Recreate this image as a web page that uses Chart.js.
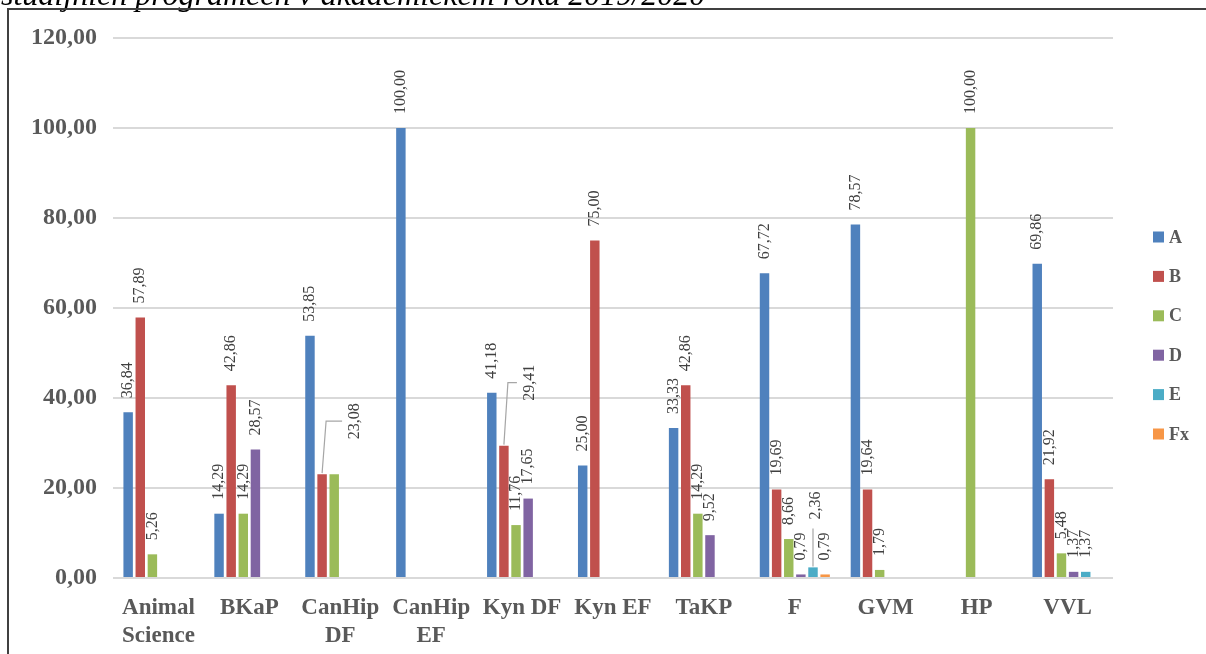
<!DOCTYPE html>
<html>
<head>
<meta charset="utf-8">
<script src="https://cdn.jsdelivr.net/npm/chart.js@4.4.0/dist/chart.umd.min.js"></script>
<style>
  body { margin: 0; background: #fff; }
  canvas { display: block; }
</style>
</head>
<body>
<canvas id="myChart" width="1206" height="654"></canvas>
<script>
// categories (study programmes) and grade shares in %
var programy = [['Animal', 'Science'], 'BKaP', ['CanHip', 'DF'], ['CanHip', 'EF'], 'Kyn DF', 'Kyn EF', 'TaKP', 'F', 'GVM', 'HP', 'VVL'];
var znamky = ['A', 'B', 'C', 'D', 'E', 'Fx'];

var hodnotyA  = [36.84, 14.29, 53.85, 100.00, 41.18, 25.00, 33.33, 67.72, 78.57, null, 69.86];
var hodnotyB  = [57.89, 42.86, 23.08, null, 29.41, 75.00, 42.86, 19.69, 19.64, null, 21.92];
var hodnotyC  = [5.26, 14.29, 23.08, null, 11.76, null, 14.29, 8.66, 1.79, 100.00, 5.48];
var hodnotyD  = [null, 28.57, null, null, 17.65, null, 9.52, 0.79, null, null, 1.37];
var hodnotyE  = [null, null, null, null, null, null, null, 2.36, null, null, 1.37];
var hodnotyFx = [null, null, null, null, null, null, null, 0.79, null, null, null];

var yTicks = [0, 20, 40, 60, 80, 100, 120];

var barvy = ['#4F81BD', '#C0504D', '#9BBB59', '#8064A2', '#4BACC6', '#F79646'];
var nadpis = 'studijních programech v akademickém roku 2019/2020';

// labels that were dragged away in the original (dataset:index)
var posunuteStitky = {
    '1:2': { dx: 33, dy: -21 },
    '2:2': { hide: true },
    '1:4': { dx: 26, dy: -31 },
    '4:7': { dx: 3, dy: -34 }
};

function cislo(v) {
    return v.toFixed(2).replace('.', ',');
}

var serif = "'Liberation Serif', 'Times New Roman', serif";

var ramecek = {
    id: 'ramecek',
    beforeDraw: function(ch) {
        var c = ch.ctx;
        c.save();
        c.fillStyle = '#fff';
        c.fillRect(0, 0, ch.width, ch.height);
        c.font = 'italic 32px ' + serif;
        c.fillStyle = '#000';
        c.textBaseline = 'alphabetic';
        c.fillText(nadpis, 1, 5);
        c.strokeStyle = '#404040';
        c.lineWidth = 2;
        c.beginPath();
        c.moveTo(8, ch.height + 2);
        c.lineTo(8, 9);
        c.lineTo(ch.width + 2, 9);
        c.stroke();
        c.restore();
    }
};

var stitky = {
    id: 'stitky',
    afterDatasetsDraw: function(ch) {
        var c = ch.ctx;
        c.save();
        c.font = '16px ' + serif;
        c.fillStyle = '#404040';
        c.textAlign = 'left';
        c.textBaseline = 'middle';
        ch.data.datasets.forEach(function(ds, di) {
            var meta = ch.getDatasetMeta(di);
            meta.data.forEach(function(bar, i) {
                var v = ds.data[i];
                if (v === null) return;
                var m = posunuteStitky[di + ':' + i] || {};
                if (m.hide) return;
                var txt = cislo(v);
                var w = c.measureText(txt).width;
                var x = bar.x + (m.dx || 0);
                var y0 = bar.y - 14 + (m.dy || 0);
                c.save();
                c.translate(x, y0);
                c.rotate(-Math.PI / 2);
                c.fillText(txt, 0, 0);
                c.restore();
                if (m.dx || m.dy) {
                    c.save();
                    c.strokeStyle = '#a6a6a6';
                    c.lineWidth = 1.2;
                    c.beginPath();
                    if (Math.abs(m.dx) > 15) {
                        var midY = y0 - w / 2;
                        c.moveTo(bar.x, bar.y - 1);
                        c.lineTo(bar.x + 4, midY);
                        c.lineTo(x - 13, midY);
                    } else {
                        c.moveTo(bar.x, y0 + 9);
                        c.lineTo(bar.x, bar.y - 1);
                    }
                    c.stroke();
                    c.restore();
                }
            });
        });
        c.restore();
    }
};

var legenda = {
    id: 'legenda',
    afterDraw: function(ch) {
        var c = ch.ctx;
        c.save();
        c.font = 'bold 18px ' + serif;
        c.textBaseline = 'middle';
        ch.data.datasets.forEach(function(ds, di) {
            var y = 237 + di * 39.4;
            c.fillStyle = ds.backgroundColor;
            c.fillRect(1153, y - 5.5, 11, 11);
            c.fillStyle = '#595959';
            c.fillText(ds.label, 1169, y + 1);
        });
        c.restore();
    }
};

var serie = [hodnotyA, hodnotyB, hodnotyC, hodnotyD, hodnotyE, hodnotyFx];
var datasets = [];
for (var k = 0; k < serie.length; k++) {
    datasets.push({
        label: znamky[k],
        data: serie[k],
        backgroundColor: barvy[k],
        borderWidth: 0,
        categoryPercentage: 0.8,
        barPercentage: 0.78
    });
}

var chart = new Chart(document.getElementById('myChart').getContext('2d'), {
    type: 'bar',
    data: {
        labels: programy,
        datasets: datasets
    },
    options: {
        responsive: false,
        animation: false,
        layout: { padding: { left: 0, top: 38, right: 93, bottom: 0 } },
        plugins: {
            legend: { display: false },
            tooltip: { enabled: false }
        },
        scales: {
            x: {
                grid: { display: false },
                border: { display: false },
                ticks: {
                    color: '#595959',
                    font: { family: serif, size: 23, weight: 'bold', lineHeight: 1.22 },
                    padding: 8,
                    maxRotation: 0,
                    autoSkip: false
                },
                afterFit: function(s) { s.height = 76; }
            },
            y: {
                min: 0,
                max: 120,
                afterBuildTicks: function(s) {
                    s.ticks = yTicks.map(function(v) { return { value: v }; });
                },
                grid: { color: '#d9d9d9', lineWidth: 2, drawTicks: false },
                border: { display: false },
                ticks: {
                    color: '#595959',
                    font: { family: serif, size: 24, weight: 'bold' },
                    padding: 16,
                    callback: function(v) { return cislo(v); }
                },
                afterFit: function(s) { s.width = 113; }
            }
        }
    },
    plugins: [ramecek, stitky, legenda]
});
</script>
</body>
</html>
